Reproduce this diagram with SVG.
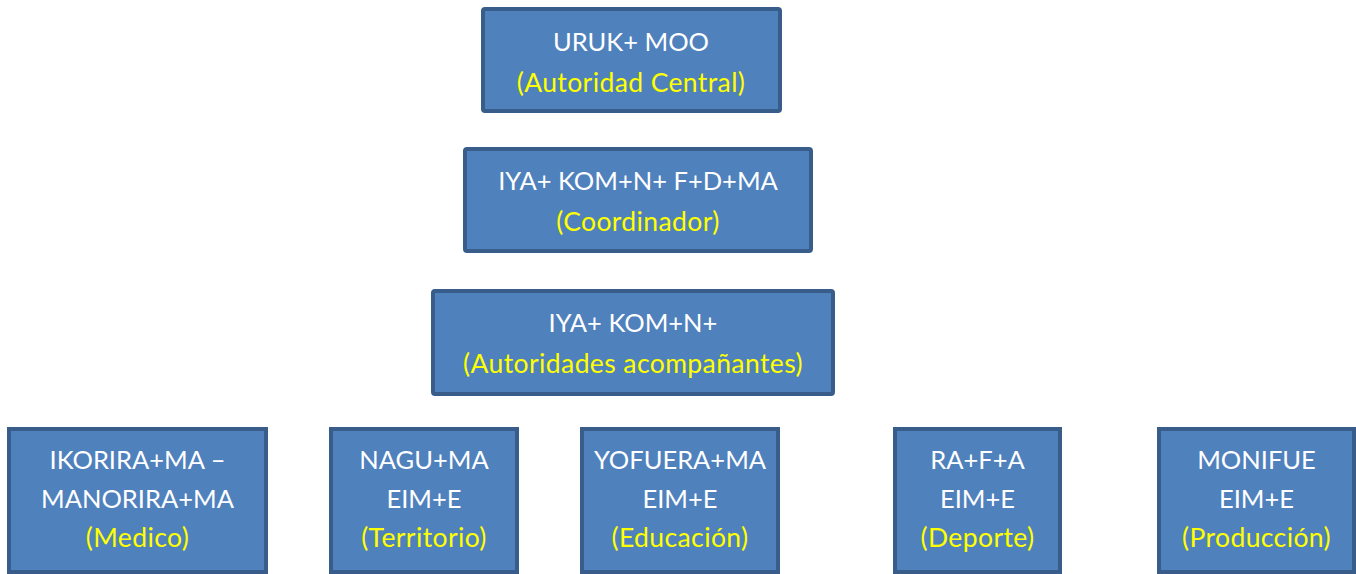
<svg xmlns="http://www.w3.org/2000/svg" width="1356" height="574" viewBox="0 0 1356 574">
<style>
.box{fill:#4F81BD;stroke:#385D8A;stroke-width:4}
text{font-family:Lato,"Open Sans",sans-serif;font-size:25.5px;text-anchor:middle}
.w{fill:#FFFFFF}
.y{fill:#FFFF00;font-size:26.5px;letter-spacing:0.4px}
</style>
<rect width="1356" height="574" fill="#FFFFFF"/>
<g id="connectors"></g>
<g id="n1">
<rect class="box" x="483" y="9" width="297" height="102" rx="2"/>
<text class="w" x="631" y="51">URUK+ MOO</text>
<text class="y" x="631" y="92">(Autoridad Central)</text>
</g>
<g id="n2">
<rect class="box" x="465" y="149" width="346" height="102" rx="2"/>
<text class="w" x="638" y="190">IYA+ KOM+N+ F+D+MA</text>
<text class="y" x="638" y="231">(Coordinador)</text>
</g>
<g id="n3">
<rect class="box" x="433" y="291" width="400" height="103" rx="2"/>
<text class="w" x="633" y="332">IYA+ KOM+N+</text>
<text class="y" x="633" y="373">(Autoridades acompañantes)</text>
</g>
<g id="n4">
<rect class="box" x="9" y="429" width="257" height="143"/>
<text class="w" x="137.5" y="468.5">IKORIRA+MA –</text>
<text class="w" x="137.5" y="507.5">MANORIRA+MA</text>
<text class="y" x="137.5" y="547">(Medico)</text>
</g>
<g id="n5">
<rect class="box" x="331" y="429" width="186" height="143"/>
<text class="w" x="424" y="468.5">NAGU+MA</text>
<text class="w" x="424" y="507.5">EIM+E</text>
<text class="y" x="424" y="547">(Territorio)</text>
</g>
<g id="n6">
<rect class="box" x="582" y="429" width="196" height="143"/>
<text class="w" x="680" y="468.5">YOFUERA+MA</text>
<text class="w" x="680" y="507.5">EIM+E</text>
<text class="y" x="680" y="547">(Educación)</text>
</g>
<g id="n7">
<rect class="box" x="895" y="429" width="165" height="143"/>
<text class="w" x="977.5" y="468.5">RA+F+A</text>
<text class="w" x="977.5" y="507.5">EIM+E</text>
<text class="y" x="977.5" y="547">(Deporte)</text>
</g>
<g id="n8">
<rect class="box" x="1159" y="429" width="195" height="143"/>
<text class="w" x="1256.5" y="468.5">MONIFUE</text>
<text class="w" x="1256.5" y="507.5">EIM+E</text>
<text class="y" x="1256.5" y="547">(Producción)</text>
</g>
</svg>
